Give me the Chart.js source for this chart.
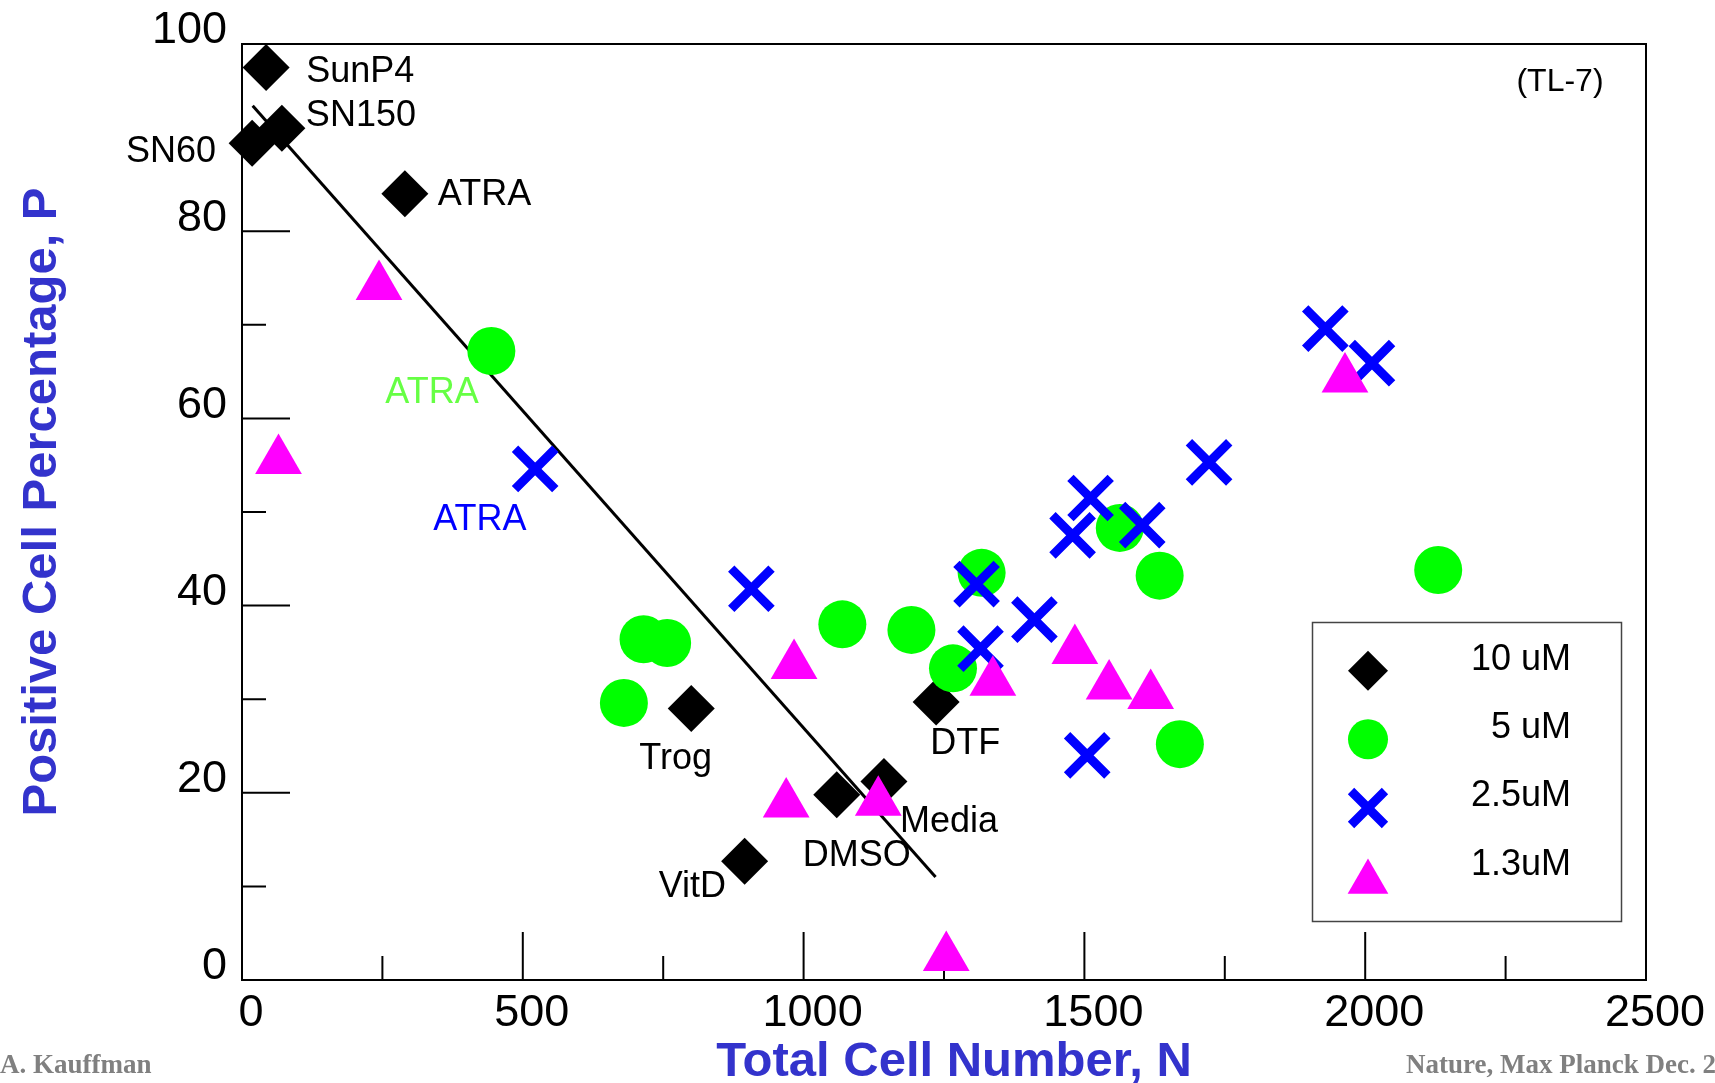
<!DOCTYPE html>
<html>
<head>
<meta charset="utf-8">
<title>Positive Cell Percentage vs Total Cell Number</title>
<script src="https://cdn.jsdelivr.net/npm/chart.js"></script>
<style>
    html, body { margin: 0; padding: 0; background: #fff; overflow: hidden; }
    #wrap { width: 1715px; height: 1083px; position: relative; }
</style>
</head>
<body>
<div id="wrap"><canvas id="cellChart"></canvas></div>
<script>
// ==================== DATA ====================
const seriesNames = ['10 uM', '5 uM', '2.5uM', '1.3uM'];

// 10 uM
const x10uM = [43, 71, 18, 290, 800, 1236, 1059, 1143, 895];
const y10uM = [97.5, 91.0, 89.4, 84.0, 29.0, 29.7, 19.8, 21.2, 12.7];
const names10uM = ['SunP4', 'SN150', 'SN60', 'ATRA', 'Trog', 'DTF', 'DMSO', 'Media', 'VitD'];

// 5 uM
const x5uM = [444, 715, 757, 680, 1069, 1192, 1266, 1317, 1563, 1634, 1670, 2130];
const y5uM = [67.2, 36.4, 36.0, 29.6, 38.0, 37.4, 33.3, 43.5, 48.3, 43.2, 25.2, 43.8];
const names5uM = ['ATRA'];

// 2.5 uM
const x2_5uM = [522, 907, 1308, 1315, 1411, 1479, 1511, 1603, 1505, 1722, 1929, 2012];
const y2_5uM = [54.6, 41.8, 42.3, 35.4, 38.5, 47.5, 51.5, 48.6, 24.0, 55.3, 69.6, 65.9];
const names2_5uM = ['ATRA'];

// 1.3 uM
const x1_3uM = [244, 65, 983, 969, 1133, 1337, 1483, 1544, 1618, 1254, 1964];
const y1_3uM = [74.1, 55.5, 33.6, 18.8, 19.0, 31.8, 35.2, 31.4, 30.4, 2.4, 64.2];

// fitted line through the 10 uM points
const fitX = [19, 1235];
const fitY = [93.4, 11.0];

// axes
const xTicks = [0, 500, 1000, 1500, 2000, 2500];
const yTicks = [0, 20, 40, 60, 80, 100];
const xMinorTicks = [250, 750, 1250, 1750, 2250];
const yMinorTicks = [10, 30, 50, 70, 90];
const xTitle = 'Total Cell Number, N';
const yTitle = 'Positive Cell Percentage, P';

// ==================== STYLES ====================
const FONT = "'Liberation Sans', Arial, Helvetica, sans-serif";
const SERIF = "'Liberation Serif', 'Times New Roman', serif";
const AXIS_BLUE = '#3333cc';

const seriesStyles = [
    { pointStyle: 'rectRot',  color: '#000000', radius: 23.5, legendRadius: 20,   borderWidth: 0 },
    { pointStyle: 'circle',   color: '#00ff00', radius: 24,   legendRadius: 20,   borderWidth: 0 },
    { pointStyle: 'crossRot', color: '#0000ff', radius: 28.5, legendRadius: 24,   borderWidth: 9 },
    { pointStyle: 'triangle', color: '#ff00ff', radius: 27,   legendRadius: 23.5, borderWidth: 0 }
];

// text next to points: dataset, point index, offset from the point in px
const labelPlacement = [
    { set: 0, idx: 0, dx: 40,   dy: 5,   align: 'left' },
    { set: 0, idx: 1, dx: 24,   dy: -12, align: 'left' },
    { set: 0, idx: 2, dx: -36,  dy: 9,   align: 'right' },
    { set: 0, idx: 3, dx: 33,   dy: 1,   align: 'left' },
    { set: 0, idx: 4, dx: -52,  dy: 51,  align: 'left' },
    { set: 0, idx: 5, dx: -6,   dy: 42,  align: 'left' },
    { set: 0, idx: 6, dx: -34,  dy: 61,  align: 'left' },
    { set: 0, idx: 7, dx: 16,   dy: 41,  align: 'left' },
    { set: 0, idx: 8, dx: -86,  dy: 26,  align: 'left' },
    { set: 1, idx: 0, dx: -106, dy: 42,  align: 'left', color: '#66ff44' },
    { set: 2, idx: 0, dx: -102, dy: 51,  align: 'left', color: '#0000ff' }
];
const labelNames = [names10uM, names5uM, names2_5uM, []];

const legendBox = {
    left: 1312.5, top: 622.5, width: 309, height: 299,
    markerX: 1368, textRight: 1571,
    markerY: [670.7, 739.3, 808, 882],
    textY: [660, 728, 796, 865]
};

function toPoints(xs, ys) {
    return xs.map(function(x, i) { return { x: x, y: ys[i] }; });
}

// ==================== PLUGINS ====================
const framePlugin = {
    id: 'frame',
    beforeDatasetsDraw: function(chart) {
        const ctx = chart.ctx;
        const a = chart.chartArea;
        const xs = chart.scales.x;
        const ys = chart.scales.y;
        ctx.save();
        ctx.strokeStyle = '#000';
        ctx.lineWidth = 2;
        ctx.strokeRect(a.left, a.top, a.right - a.left, a.bottom - a.top);

        ctx.beginPath();
        xTicks.filter(function(v) { return v > xs.min && v < xs.max; }).forEach(function(v) {
            const px = xs.getPixelForValue(v);
            ctx.moveTo(px, a.bottom);
            ctx.lineTo(px, a.bottom - 48);
        });
        xMinorTicks.forEach(function(v) {
            const px = xs.getPixelForValue(v);
            ctx.moveTo(px, a.bottom);
            ctx.lineTo(px, a.bottom - 24);
        });
        yTicks.filter(function(v) { return v > ys.min && v < ys.max; }).forEach(function(v) {
            const py = ys.getPixelForValue(v);
            ctx.moveTo(a.left, py);
            ctx.lineTo(a.left + 48, py);
        });
        yMinorTicks.forEach(function(v) {
            const py = ys.getPixelForValue(v);
            ctx.moveTo(a.left, py);
            ctx.lineTo(a.left + 24, py);
        });
        ctx.stroke();
        ctx.restore();
    }
};

const notesPlugin = {
    id: 'notes',
    afterDraw: function(chart) {
        const ctx = chart.ctx;
        ctx.save();

        // axis titles
        ctx.font = 'bold 49px ' + FONT;
        ctx.fillStyle = AXIS_BLUE;
        ctx.textAlign = 'center';
        ctx.textBaseline = 'middle';
        ctx.fillText(xTitle, 954, 1062);
        ctx.save();
        ctx.translate(42, 502);
        ctx.rotate(-Math.PI / 2);
        ctx.fillText(yTitle, 0, 0);
        ctx.restore();

        // point labels
        ctx.font = '36px ' + FONT;
        ctx.textBaseline = 'middle';
        labelPlacement.forEach(function(p) {
            const el = chart.getDatasetMeta(p.set).data[p.idx];
            if (!el) return;
            ctx.fillStyle = p.color || '#000';
            ctx.textAlign = p.align;
            ctx.fillText(labelNames[p.set][p.idx], el.x + p.dx, el.y + p.dy);
        });

        // cell line tag
        ctx.font = '32px ' + FONT;
        ctx.fillStyle = '#000';
        ctx.textAlign = 'center';
        ctx.fillText('(TL-7)', 1560, 82);

        // legend
        ctx.strokeStyle = '#444';
        ctx.lineWidth = 1.5;
        ctx.strokeRect(legendBox.left, legendBox.top, legendBox.width, legendBox.height);
        seriesNames.forEach(function(name, i) {
            const s = seriesStyles[i];
            ctx.fillStyle = s.color;
            ctx.strokeStyle = s.color;
            ctx.lineWidth = s.borderWidth;
            Chart.helpers.drawPoint(ctx, {
                pointStyle: s.pointStyle,
                radius: s.legendRadius,
                rotation: 0,
                borderWidth: s.borderWidth
            }, legendBox.markerX, legendBox.markerY[i]);
            ctx.fillStyle = '#000';
            ctx.font = '36px ' + FONT;
            ctx.textAlign = 'right';
            ctx.textBaseline = 'middle';
            ctx.fillText(name, legendBox.textRight, legendBox.textY[i]);
        });

        // footer
        ctx.font = 'bold 27px ' + SERIF;
        ctx.fillStyle = '#808080';
        ctx.textBaseline = 'alphabetic';
        ctx.textAlign = 'left';
        ctx.fillText('A. Kauffman', 0, 1073);
        ctx.textAlign = 'right';
        ctx.fillText('Nature, Max Planck Dec. 2', 1716, 1073);
        ctx.restore();
    }
};

// ==================== CHART ====================
function crearGrafica() {
    const ctx = document.getElementById('cellChart');
    const sets = [[x10uM, y10uM], [x5uM, y5uM], [x2_5uM, y2_5uM], [x1_3uM, y1_3uM]];

    const datasets = sets.map(function(pair, i) {
        const s = seriesStyles[i];
        return {
            label: seriesNames[i],
            data: toPoints(pair[0], pair[1]),
            pointStyle: s.pointStyle,
            pointRadius: s.radius,
            backgroundColor: s.color,
            borderColor: s.color,
            borderWidth: s.borderWidth,
            order: 4 - i,
            clip: false
        };
    });

    datasets.push({
        label: 'fit',
        data: toPoints(fitX, fitY),
        showLine: true,
        pointRadius: 0,
        borderColor: '#000',
        borderWidth: 3,
        order: 5
    });

    new Chart(ctx, {
        type: 'scatter',
        data: { datasets: datasets },
        options: {
            responsive: true,
            maintainAspectRatio: false,
            animation: false,
            events: [],
            layout: { padding: { top: 44, right: 69, left: 0, bottom: 0 } },
            plugins: {
                legend: { display: false },
                tooltip: { enabled: false }
            },
            scales: {
                x: {
                    type: 'linear',
                    min: 0,
                    max: 2500,
                    afterBuildTicks: function(scale) {
                        scale.ticks = xTicks.map(function(v) { return { value: v }; });
                    },
                    afterFit: function(scale) { scale.height = 103; },
                    grid: { display: false, drawTicks: false },
                    border: { display: false },
                    ticks: {
                        font: { family: FONT, size: 45 },
                        color: '#000',
                        padding: 7,
                        labelOffset: 9,
                        maxRotation: 0,
                        autoSkip: false,
                        callback: function(value) { return String(value); }
                    },
                    title: { display: false }
                },
                y: {
                    type: 'linear',
                    min: 0,
                    max: 100,
                    afterBuildTicks: function(scale) {
                        scale.ticks = yTicks.map(function(v) { return { value: v }; });
                    },
                    afterFit: function(scale) { scale.width = 242; },
                    grid: { display: false, drawTicks: false },
                    border: { display: false },
                    ticks: {
                        font: { family: FONT, size: 45 },
                        color: '#000',
                        padding: 15,
                        labelOffset: -13,
                        autoSkip: false,
                        callback: function(value) { return String(value); }
                    },
                    title: { display: false }
                }
            }
        },
        plugins: [framePlugin, notesPlugin]
    });
}

crearGrafica();
</script>
</body>
</html>
